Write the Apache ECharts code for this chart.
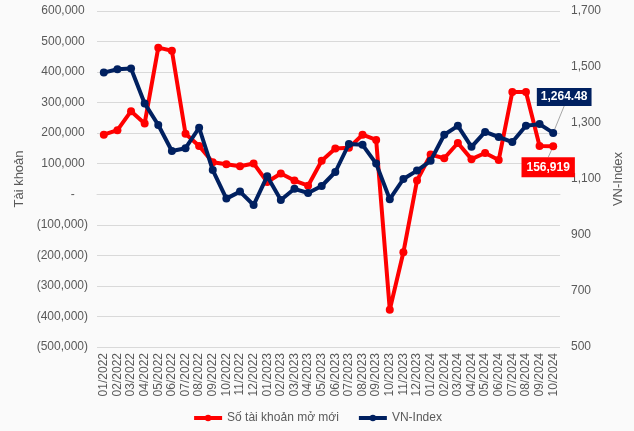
<!DOCTYPE html>
<html>
<head>
<meta charset="utf-8">
<script src="https://cdn.jsdelivr.net/npm/echarts@6/dist/echarts.min.js"></script>
<style>
  html, body { margin: 0; padding: 0; background: #fafafa; }
  #chart { width: 634px; height: 431px; }
</style>
</head>
<body>
<div id="chart"></div>
<script>
const months = [
  '01/2022', '02/2022', '03/2022', '04/2022', '05/2022', '06/2022', '07/2022', '08/2022', '09/2022', '10/2022', '11/2022', '12/2022',
  '01/2023', '02/2023', '03/2023', '04/2023', '05/2023', '06/2023', '07/2023', '08/2023', '09/2023', '10/2023', '11/2023', '12/2023',
  '01/2024', '02/2024', '03/2024', '04/2024', '05/2024', '06/2024', '07/2024', '08/2024', '09/2024', '10/2024'
]

// Số tài khoản mở mới (left axis)
const newAccounts = [
  195000, 210000, 272000, 232000, 480000, 470000, 198000, 158000, 105000, 98000, 92000, 101000,
  40000, 68000, 45000, 28000, 110000, 150000, 152000, 195000, 178000, -378000, -190000, 45000,
  130000, 118000, 168000, 115000, 135000, 112000, 335000, 335000, 158000, 156919
]

// VN-Index (right axis)
const vnIndex = [
  1480, 1492, 1495, 1370, 1293, 1200, 1210, 1283, 1132, 1030, 1055, 1007,
  1110, 1025, 1065, 1050, 1075, 1125, 1225, 1222, 1155, 1028, 1100, 1130,
  1165, 1258, 1290, 1215, 1268, 1250, 1232, 1290, 1296, 1264.48
]

const RED = '#ff0000'
const NAVY = '#002060'
const GREY = '#595959'
const FONT = '"Liberation Sans", Arial, sans-serif'

function accounting(v) {
  if (v === 0) return '-    '
  const s = Math.abs(v).toLocaleString('en-US')
  return v < 0 ? '(' + s + ')' : s + ' '
}

const lastIdx = months.length - 1

const chart = echarts.init(document.getElementById('chart'), null, { renderer: 'canvas' })

chart.setOption({
  backgroundColor: '#fafafa',
  animation: false,
  textStyle: { fontFamily: FONT, color: GREY },
  grid: { left: 97, right: 74, top: 11, bottom: 84 },
  legend: {
    bottom: 2,
    left: 'center',
    itemWidth: 28,
    itemHeight: 8,
    itemGap: 18,
    lineStyle: { width: 4 },
    textStyle: { color: GREY, fontSize: 12, fontFamily: FONT },
    data: ['Số tài khoản mở mới', 'VN-Index']
  },
  xAxis: {
    type: 'category',
    data: months,
    boundaryGap: true,
    axisLine: { lineStyle: { color: '#d9d9d9' } },
    axisTick: { show: false },
    axisLabel: { color: GREY, fontSize: 12, rotate: 90, interval: 0, margin: 6, fontFamily: FONT }
  },
  yAxis: [
    {
      type: 'value',
      min: -500000,
      max: 600000,
      interval: 100000,
      name: 'Tài khoản',
      nameLocation: 'middle',
      nameGap: 64,
      nameTextStyle: { color: GREY, fontSize: 13, fontFamily: FONT },
      axisLine: { show: false },
      axisTick: { show: false },
      axisLabel: { color: GREY, fontSize: 12, margin: 9, formatter: accounting, fontFamily: FONT },
      splitLine: { lineStyle: { color: '#d9d9d9', width: 1 } }
    },
    {
      type: 'value',
      min: 500,
      max: 1700,
      interval: 200,
      name: 'VN-Index',
      nameLocation: 'middle',
      nameGap: 43,
      nameTextStyle: { color: GREY, fontSize: 13, fontFamily: FONT },
      axisLine: { show: false },
      axisTick: { show: false },
      axisLabel: { color: GREY, fontSize: 12, margin: 11, formatter: v => v.toLocaleString('en-US'), fontFamily: FONT },
      splitLine: { show: false }
    }
  ],
  series: [
    {
      name: 'Số tài khoản mở mới',
      type: 'line',
      yAxisIndex: 0,
      data: newAccounts.map((v, i) => i === lastIdx ? {
        value: v,
        label: {
          show: true,
          position: 'bottom',
          formatter: p => p.value.toLocaleString('en-US'),
          color: '#fff',
          fontWeight: 'bold',
          fontSize: 12,
          backgroundColor: RED,
          padding: [4, 5, 4, 5]
        },
        labelLine: { show: true, lineStyle: { color: '#a6a6a6', width: 1 } }
      } : v),
      labelLayout: { dx: -5, dy: 2 },
      lineStyle: { color: RED, width: 4 },
      itemStyle: { color: RED },
      symbol: 'circle',
      symbolSize: 8,
      z: 2
    },
    {
      name: 'VN-Index',
      type: 'line',
      yAxisIndex: 1,
      data: vnIndex.map((v, i) => i === lastIdx ? {
        value: v,
        label: {
          show: true,
          position: 'top',
          formatter: p => p.value.toLocaleString('en-US', { minimumFractionDigits: 2, maximumFractionDigits: 2 }),
          color: '#fff',
          fontWeight: 'bold',
          fontSize: 12,
          backgroundColor: NAVY,
          padding: [3, 4, 3, 4]
        },
        labelLine: { show: true, lineStyle: { color: '#a6a6a6', width: 1 } }
      } : v),
      labelLayout: { dx: 11, dy: -18 },
      lineStyle: { color: NAVY, width: 4 },
      itemStyle: { color: NAVY },
      symbol: 'circle',
      symbolSize: 8,
      z: 3
    }
  ]
})
</script>
</body>
</html>
